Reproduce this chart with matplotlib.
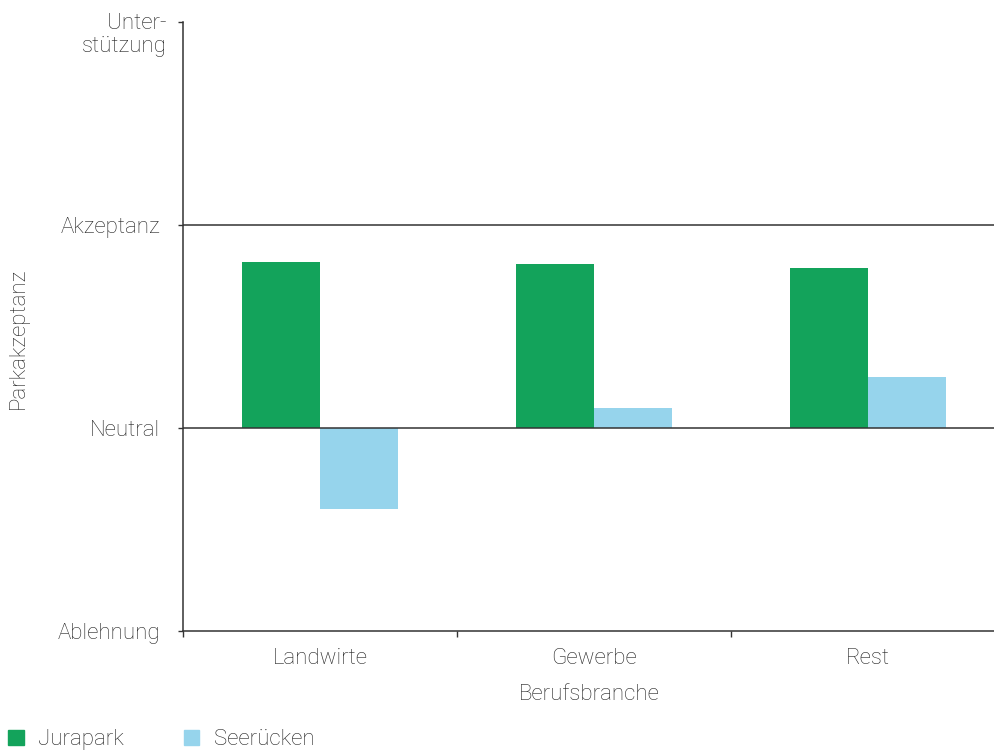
import numpy as np
import matplotlib
matplotlib.use("Agg")
import matplotlib.pyplot as plt
from matplotlib.patches import Patch

# --- Data ---
categories = ["Landwirte", "Gewerbe", "Rest"]
jurapark = [0.82, 0.81, 0.79]
seeruecken = [-0.40, 0.10, 0.25]
level_ticks = [-1, 0, 1, 2]
level_labels = ["Ablehnung", "Neutral", "Akzeptanz", "Unter-\nstützung"]

GREEN = "#13a35b"
BLUE = "#96d4ec"
TEXT = "#222222"
LINE = "#333333"
FS = 16

plt.rcParams["font.family"] = ["Roboto", "DejaVu Sans"]
plt.rcParams["font.weight"] = "light"
plt.rcParams["axes.labelweight"] = "light"
plt.rcParams["text.color"] = TEXT

fig = plt.figure(figsize=(9.95, 7.55), dpi=100)
ax = fig.add_axes([183/995, 124/755, 812/995, 609/755])

x = np.arange(len(categories))
w = 0.285
ax.bar(x - w, jurapark, width=w, align="edge", color=GREEN, label="Jurapark")
ax.bar(x, seeruecken, width=w, align="edge", color=BLUE, label="Seerücken")

ax.axhline(0, color=LINE, lw=1.1, zorder=3)
ax.axhline(1, color=LINE, lw=1.1, zorder=3)

ax.set_ylim(-1, 2)
ax.set_xlim(-0.5, 2.463)

# y axis: level labels
ax.set_yticks(level_ticks)
ax.set_yticklabels(level_labels[:-1] + [""], fontsize=FS, color=TEXT)
ax.annotate(level_labels[-1], xy=(0, 2), xycoords=("axes fraction", "data"),
            xytext=(-12, 6.5), textcoords="offset points",
            ha="right", va="top", fontsize=FS, color=TEXT, linespacing=1.15)
ax.tick_params(axis="y", length=3.5, width=1, color=LINE, pad=13)

# x axis: boundary ticks, labels centered on groups
ax.set_xticks([-0.5, 0.5, 1.5])
ax.set_xticklabels([])
ax.set_xticks(x, minor=True)
ax.set_xticklabels(categories, minor=True, fontsize=FS, color=TEXT)
ax.tick_params(axis="x", which="major", length=4, width=1, color=LINE)
ax.tick_params(axis="x", which="minor", length=0, pad=12)

for side in ["top", "right"]:
    ax.spines[side].set_visible(False)
for side in ["left", "bottom"]:
    ax.spines[side].set_color(LINE)
    ax.spines[side].set_linewidth(1.1)

ax.set_xlabel("Berufsbranche", fontsize=FS, color=TEXT, labelpad=11)
ax.set_ylabel("Parkakzeptanz", fontsize=FS, color=TEXT)
ax.yaxis.set_label_coords(-0.19, 0.48)

handles = [Patch(color=GREEN, label="Jurapark"), Patch(color=BLUE, label="Seerücken")]
fig.legend(handles=handles, loc="upper left", bbox_to_anchor=(0.008, 0.034),
           ncol=2, frameon=False, fontsize=FS, handlelength=0.7, handleheight=0.7,
           handletextpad=0.65, columnspacing=2.7, borderpad=0, borderaxespad=0)

fig.savefig("out.png", dpi=100)
